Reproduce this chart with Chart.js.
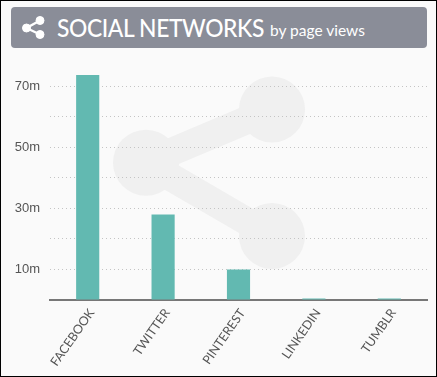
<!DOCTYPE html>
<html><head><meta charset="utf-8">
<script src="https://cdn.jsdelivr.net/npm/chart.js@4/dist/chart.umd.min.js"></script>
<style>
html,body{margin:0;padding:0;background:#fff}
#wrap{position:relative;width:437px;height:377px;overflow:hidden}
canvas{position:absolute;left:0;top:0}
#frame{position:absolute;left:0;top:0;width:435px;height:375px;border:1px solid #000;pointer-events:none}
#head{position:absolute;left:11px;top:7px;width:416px;height:41px;background:#8a8d98;border-radius:4px;color:#fff;font-family:Lato,sans-serif}
#head svg{position:absolute;left:10.5px;top:9px}
#t1{position:absolute;left:46px;top:6px;font-size:24px;line-height:30px;font-weight:500;white-space:nowrap;letter-spacing:-.4px;transform:scaleX(.95);transform-origin:0 0}
#t2{position:absolute;left:259px;top:13px;font-size:16px;line-height:20px;white-space:nowrap;transform:scaleX(.97);transform-origin:0 0}
</style></head><body>
<div id="wrap">
<canvas id="c" width="437" height="377"></canvas>
<div id="head">
<svg width="24" height="24" viewBox="0 0 24 24"><g fill="#fff" stroke="#fff"><circle cx="18" cy="4.5" r="4" /><circle cx="4.5" cy="12" r="4"/><circle cx="18" cy="18.5" r="4"/><path d="M18 4.5L4.5 12L18 18.5" fill="none" stroke-width="2.4"/></g></svg>
<div id="t1">SOCIAL NETWORKS</div><div id="t2">by page views</div>
</div>
<div id="frame"></div>
</div>
<script>
const categories=["FACEBOOK","TWITTER","PINTEREST","LINKEDIN","TUMBLR"];
const pageViews=[73.6,28,10,0.5,0.5];
const labelledTicks=[10,30,50,70];
const backdrop={id:'backdrop',beforeDraw(ch){
  const g=ch.ctx;g.save();
  g.fillStyle='#fafafa';g.fillRect(0,0,437,377);
  g.fillStyle='#f0f0f0';g.strokeStyle='#f0f0f0';g.lineWidth=28;
  [[272,109.5],[146,162.7],[272,236]].forEach(p=>{g.beginPath();g.arc(p[0],p[1],33,0,Math.PI*2);g.fill();});
  g.beginPath();g.moveTo(272,109.5);g.lineTo(146,162.7);g.lineTo(272,236);g.stroke();
  g.restore();
}};
new Chart(document.getElementById('c'),{
  type:'bar',
  data:{labels:categories,datasets:[{data:pageViews,backgroundColor:'#62b9b1',barPercentage:.307,categoryPercentage:1,borderWidth:0}]},
  plugins:[backdrop],
  options:{
    responsive:false,animation:false,
    layout:{padding:{left:0,right:10,top:70.75,bottom:0}},
    plugins:{legend:{display:false},tooltip:{enabled:false}},
    scales:{
      x:{
        afterFit(s){s.height=77;},
        afterUpdate(s){s._length=375;},
        grid:{display:false,drawTicks:false},
        border:{display:true,color:'#777',width:2},
        ticks:{maxRotation:55,minRotation:55,padding:6,labelOffset:4,color:'#555',font:{family:'Lato',size:12.5}}
      },
      y:{
        min:0,max:75,
        afterFit(s){s.width=50;},
        grid:{drawTicks:false,color:c=>(c.tick.value===0||c.tick.value>70)?'transparent':'#c4c4c4',lineWidth:1},
        border:{display:false,dash:[1,3]},
        ticks:{stepSize:10,padding:10,color:'#555',font:{family:'Liberation Sans',size:13},
          callback:v=>labelledTicks.includes(v)?v+'m':''}
      }
    }
  }
});
</script>
</body></html>
